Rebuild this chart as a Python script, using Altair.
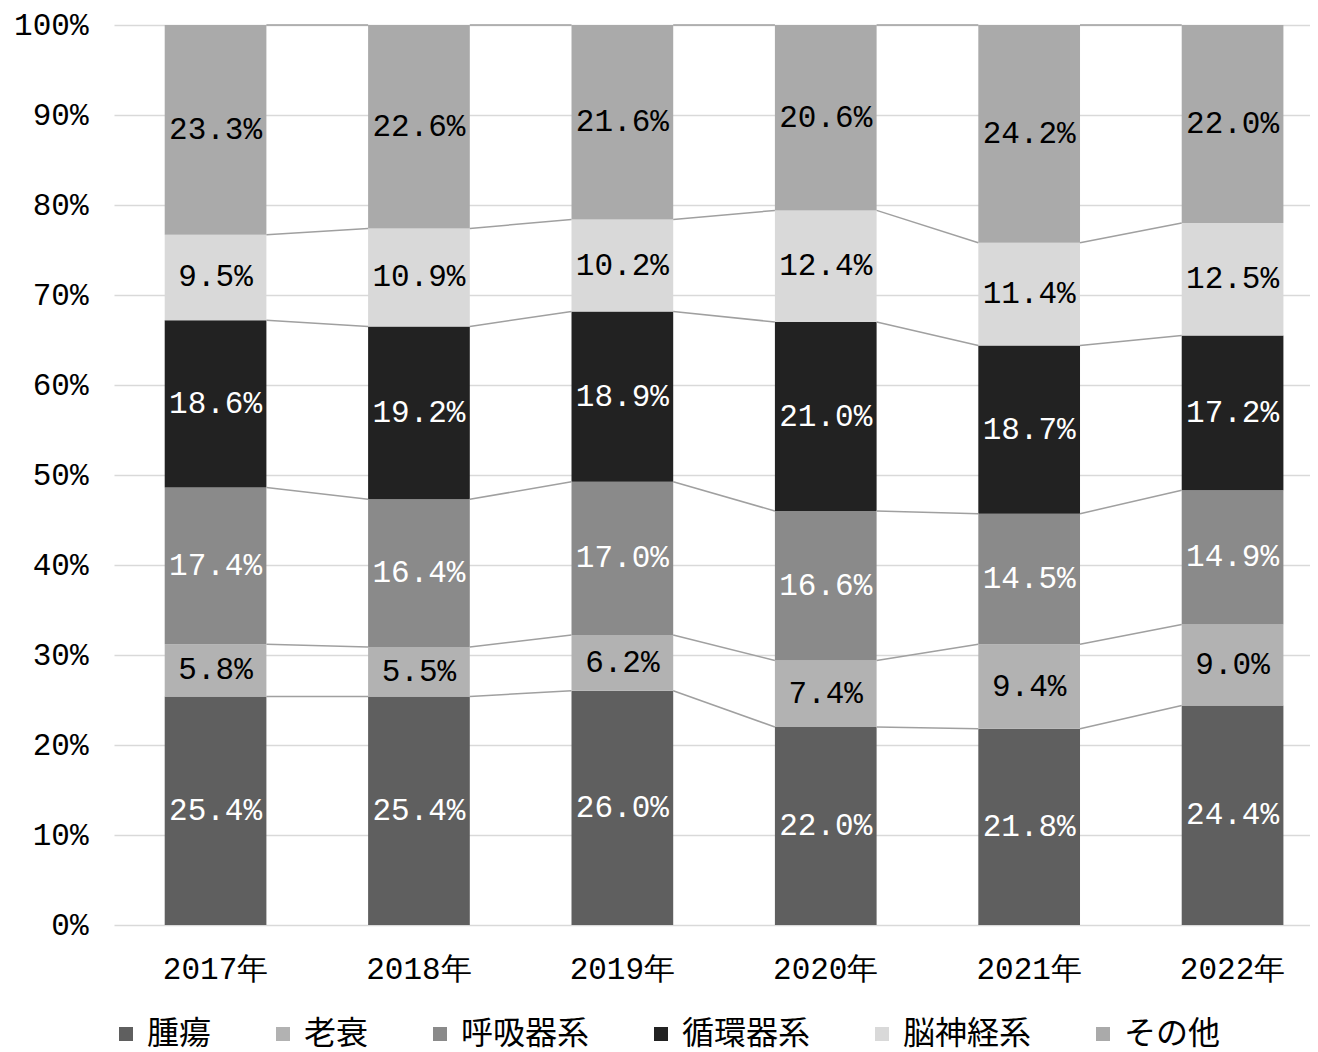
import altair as alt
import pandas as pd

years = ["2017年", "2018年", "2019年", "2020年", "2021年", "2022年"]
causes = ["腫瘍", "老衰", "呼吸器系", "循環器系", "脳神経系", "その他"]
tumor = [25.4, 25.4, 26.0, 22.0, 21.8, 24.4]
senility = [5.8, 5.5, 6.2, 7.4, 9.4, 9.0]
respiratory = [17.4, 16.4, 17.0, 16.6, 14.5, 14.9]
circulatory = [18.6, 19.2, 18.9, 21.0, 18.7, 17.2]
neuro = [9.5, 10.9, 10.2, 12.4, 11.4, 12.5]
other = [23.3, 22.6, 21.6, 20.6, 24.2, 22.0]
series = [tumor, senility, respiratory, circulatory, neuro, other]

colors = ["#5f5f5f", "#b2b2b2", "#8a8a8a", "#222222", "#d9d9d9", "#aaaaaa"]
white_label = [True, False, True, True, False, False]

rows = []
tops = {}
for i, y in enumerate(years):
    total = sum(s[i] for s in series)
    cum = 0.0
    for k, c in enumerate(causes):
        v = series[k][i]
        mid = (cum + v / 2) / total
        cum += v
        tops[(i, k)] = cum / total
        rows.append(dict(year=y, cause=c, order=k, value=v, mid=mid,
                         label=f"{v:.1f}%", white=white_label[k]))
df = pd.DataFrame(rows)

conn = []
for i in range(len(years) - 1):
    for k in range(len(causes)):
        conn.append(dict(year=years[i], nxt=years[i + 1],
                         ya=tops[(i, k)], yb=tops[(i + 1, k)]))
cdf = pd.DataFrame(conn)

FS = 31
xscale = alt.Scale(domain=years, paddingInner=0.5, paddingOuter=0.19, align=0.656)
yscale = alt.Scale(domain=[0, 1], nice=False)

xaxis = alt.Axis(title=None, labelAngle=0, domain=False, ticks=False, labelPadding=29,
                 labelFont="Liberation Mono", labelFontSize=FS, labelColor="black")
yaxis = alt.Axis(title=None, format="%", values=[i / 10 for i in range(11)],
                 domain=False, ticks=False, labelPadding=26, grid=True,
                 gridColor="#d9d9d9", gridWidth=1.5,
                 labelFont="Liberation Mono", labelFontSize=FS, labelColor="black")

bars = alt.Chart(df).mark_bar().encode(
    x=alt.X("year:N", scale=xscale, axis=xaxis),
    y=alt.Y("value:Q", stack="normalize", scale=yscale, axis=yaxis),
    order=alt.Order("order:Q", sort="ascending"),
    color=alt.Color("cause:N", scale=alt.Scale(domain=causes, range=colors),
                    legend=alt.Legend(title=None, orient="none", direction="horizontal",
                                      legendX=-4, legendY=993,
                                      symbolType="square", symbolSize=196,
                                      symbolStrokeWidth=0, labelFont="Noto Sans CJK JP",
                                      labelFontSize=32, labelOffset=5, columnPadding=55,
                                      labelColor="black")),
)

lines = alt.Chart(cdf).mark_rule(color="#a0a0a0", strokeWidth=1.5).encode(
    x=alt.X("year:N", scale=xscale, bandPosition=1),
    x2=alt.X2("nxt", bandPosition=0),
    y=alt.Y("ya:Q", scale=yscale),
    y2="yb:Q",
)

text_white = alt.Chart(df).transform_filter("datum.white").mark_text(
    font="Liberation Mono", fontSize=FS, color="white").encode(
    x=alt.X("year:N", scale=xscale),
    y=alt.Y("mid:Q", scale=yscale),
    text="label:N",
)
text_black = alt.Chart(df).transform_filter("!datum.white").mark_text(
    font="Liberation Mono", fontSize=FS, color="black").encode(
    x=alt.X("year:N", scale=xscale),
    y=alt.Y("mid:Q", scale=yscale),
    text="label:N",
)

chart = alt.layer(bars, lines, text_white, text_black).properties(
    width=1196, height=900,
    padding={"left": 5, "top": 1, "right": 0, "bottom": 12},
).configure_view(stroke=None)

chart.save("out.html", embed_options={"renderer": "svg", "actions": False})
